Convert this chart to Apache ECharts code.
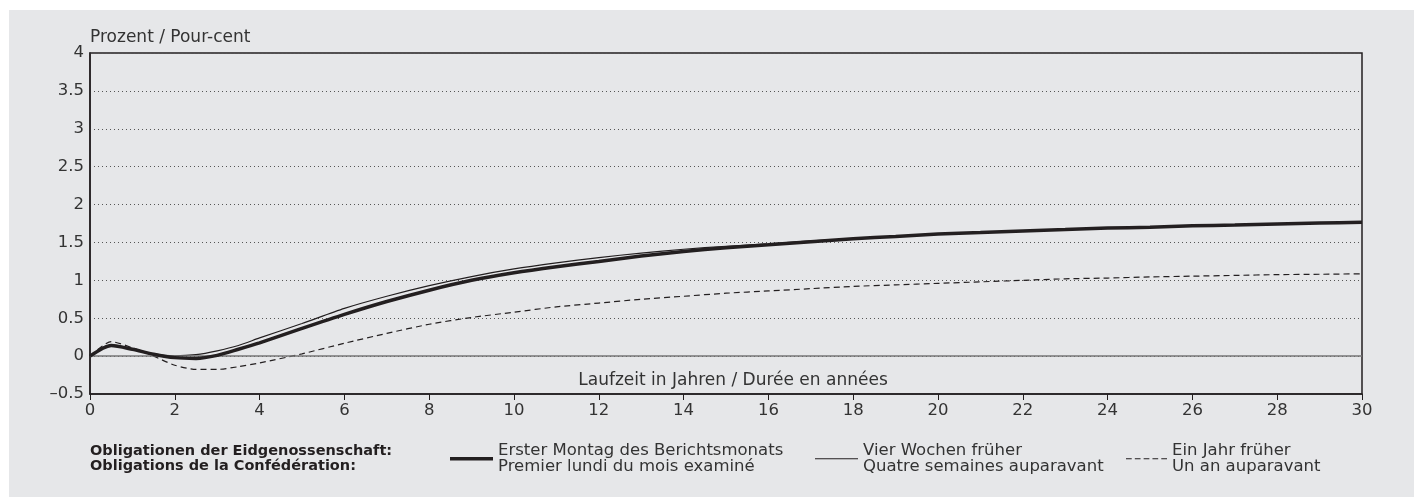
<!DOCTYPE html>
<html>
<head>
<meta charset="utf-8">
<script src="https://cdn.jsdelivr.net/npm/echarts@6/dist/echarts.min.js"></script>
<style>
html,body{margin:0;padding:0;background:#fff;}
#bg{position:absolute;left:9px;top:10px;width:1405px;height:487px;background:#e6e7e9;}
#mainChart{position:absolute;left:0;top:0;width:1414px;height:497px;}
</style>
</head>
<body>
<div id="bg"></div>
<div id="mainChart"></div>
<script>
// Laufzeit (Jahre)
var years = [0,0.5,1,1.5,2,2.5,3,3.5,4,5,6,7,8,9,10,11,12,13,14,15,16,17,18,19,20,21,22,23,24,25,26,27,28,29,30];
// Erster Montag des Berichtsmonats
var current = [0,0.14,0.09,0.025,-0.02,-0.03,0.01,0.09,0.175,0.365,0.55,0.72,0.87,1.0,1.1,1.18,1.25,1.32,1.38,1.43,1.47,1.51,1.55,1.58,1.61,1.63,1.65,1.67,1.69,1.70,1.72,1.73,1.745,1.755,1.765];
// Vier Wochen früher
var fourWeeks = [0,0.15,0.1,0.03,0.005,0.02,0.07,0.14,0.24,0.43,0.63,0.79,0.93,1.05,1.15,1.23,1.3,1.36,1.41,1.45,1.48,1.52,1.55,1.58,1.61,1.63,1.65,1.67,1.69,1.70,1.72,1.73,1.745,1.755,1.765];
// Ein Jahr früher
var oneYear = [0,0.19,0.11,0.0,-0.12,-0.175,-0.175,-0.14,-0.09,0.03,0.17,0.3,0.42,0.51,0.58,0.65,0.7,0.75,0.79,0.83,0.86,0.89,0.92,0.94,0.96,0.98,1.0,1.02,1.03,1.045,1.055,1.065,1.075,1.08,1.086];

var names = [
    'Erster Montag des Berichtsmonats\nPremier lundi du mois examiné',
    'Vier Wochen früher\nQuatre semaines auparavant',
    'Ein Jahr früher\nUn an auparavant'
];

var FONT = 'DejaVu Sans';
var ink = '#231f20';
var txt = '#333';

function pairs(arr){
    var out = [];
    for (var i = 0; i < years.length; i++) out.push([years[i], arr[i]]);
    return out;
}

var chart = echarts.init(document.getElementById('mainChart'));

var legendText = {fontFamily:FONT, fontSize:16.5, color:txt, lineHeight:16.5};
var dashIcon = 'path://M0,0h6v1h-6z M9.25,0h6v1h-6z M18.5,0h6v1h-6z M27.75,0h6v1h-6z M37,0h6v1h-6z';

chart.setOption({
    animation:false,
    textStyle:{fontFamily:FONT},
    title:[
        {text:'Obligationen der Eidgenossenschaft:\nObligations de la Confédération:', left:90, top:443, padding:0,
         textStyle:{fontFamily:FONT, fontSize:14.5, fontWeight:'bold', color:ink, lineHeight:15.5}}
    ],
    graphic:[
        {type:'text', left:90, top:29, style:{text:'Prozent / Pour-cent', font:'17px '+FONT, fill:txt}},
        {type:'text', x:733, y:381, style:{text:'Laufzeit in Jahren / Durée en années', font:'17px '+FONT, fill:txt, align:'center', verticalAlign:'middle'}}
    ],
    legend:[
        {data:[names[0]], left:450, top:442, padding:0, icon:'rect', itemWidth:43, itemHeight:3.5, textStyle:legendText, selectedMode:false},
        {data:[names[1]], left:815, top:442, padding:0, icon:'rect', itemWidth:43, itemHeight:1.2, textStyle:legendText, selectedMode:false},
        {data:[names[2]], left:1126, top:442, padding:0, icon:dashIcon, itemWidth:41, itemHeight:1.2, textStyle:legendText, selectedMode:false}
    ],
    grid:{left:90, right:52, top:53, bottom:103, show:true, borderColor:ink, borderWidth:1.5, backgroundColor:'transparent'},
    xAxis:{
        type:'value', min:0, max:30, interval:2,
        axisLine:{onZero:false, lineStyle:{color:ink, width:1.5}},
        axisTick:{show:true, length:6, lineStyle:{color:ink, width:1}},
        axisLabel:{fontSize:16.5, color:txt, margin:8, fontFamily:FONT},
        splitLine:{show:false}
    },
    yAxis:{
        type:'value', min:-0.5, max:4, interval:0.5,
        axisLine:{show:true, lineStyle:{color:ink, width:1.5}},
        axisTick:{show:false},
        axisLabel:{fontSize:16.5, color:txt, margin:6, fontFamily:FONT,
            formatter:function(v){ return String(v).replace('-', '\u2013'); }},
        splitLine:{show:true, lineStyle:{color:'#555', width:1, type:[1,3]}}
    },
    series:[
        {name:names[0], type:'line', data:pairs(current), symbol:'none', smooth:0.25, z:5,
         lineStyle:{color:ink, width:3.5}, itemStyle:{color:ink},
         markLine:{silent:true, symbol:'none', label:{show:false}, lineStyle:{color:'#767676', width:1.5, type:'solid'},
                   data:[{yAxis:0}]}},
        {name:names[1], type:'line', data:pairs(fourWeeks), symbol:'none', smooth:0.25, z:4,
         lineStyle:{color:ink, width:1.2}, itemStyle:{color:ink}},
        {name:names[2], type:'line', data:pairs(oneYear), symbol:'none', smooth:0.25, z:3,
         lineStyle:{color:ink, width:1.2, type:[6,4]}, itemStyle:{color:ink}}
    ]
});
</script>
</body>
</html>
